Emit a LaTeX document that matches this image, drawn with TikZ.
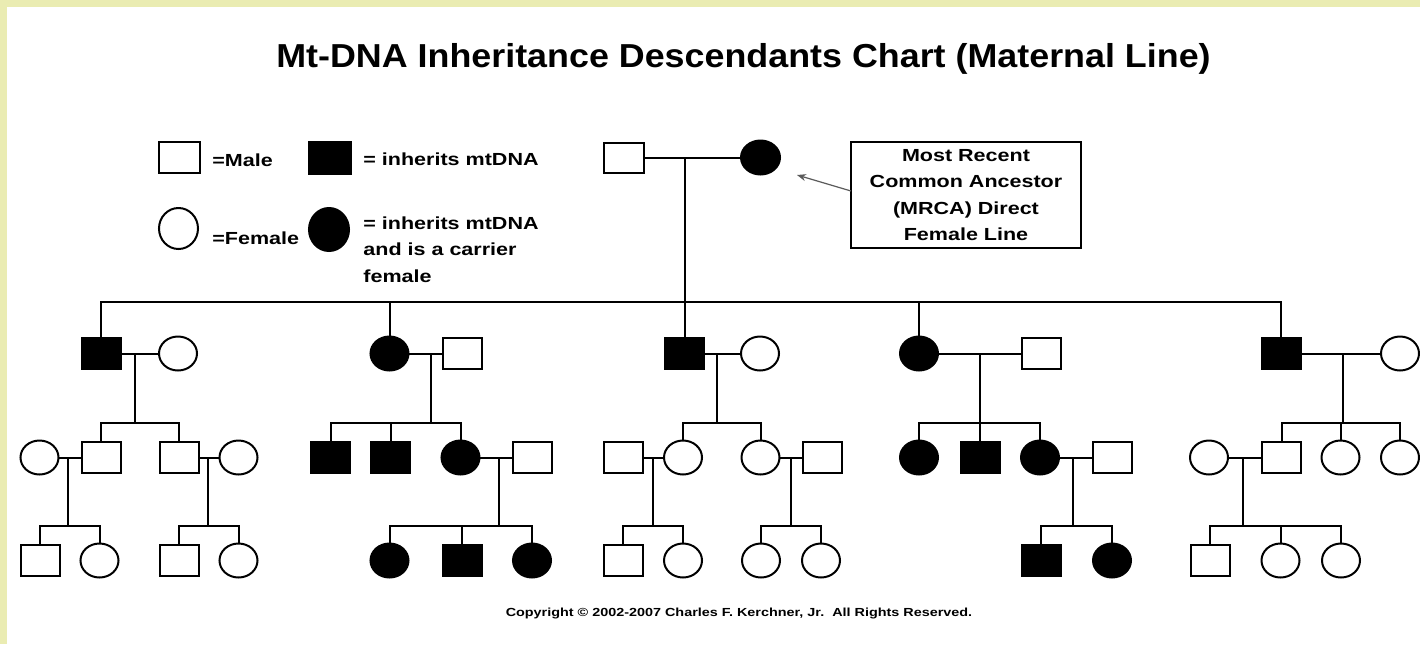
\documentclass[tikz,border=0pt]{standalone}
\usepackage{fontspec}
\newfontfamily\cf{Liberation Sans}[FakeStretch=1.23]
\newfontfamily\tf{Liberation Sans}[FakeStretch=1.08]
\usetikzlibrary{shapes.geometric,arrows.meta}
\definecolor{frameyel}{RGB}{234,236,178}
\definecolor{arrowgray}{RGB}{90,90,90}
\begin{document}
\begin{tikzpicture}[x=0.5pt,y=-0.5pt,
  shp/.style={line width=1pt, draw=black, inner sep=0pt, outer sep=0pt},
  male/.style={shp, rectangle, minimum width=19.5pt, minimum height=15.5pt},
  fem/.style={shp, ellipse, minimum width=19pt, minimum height=17pt},
  carrier/.style={fill=black},
  wire/.style={line width=1pt},
  legtext/.style={inner sep=0pt, font=\cf\bfseries\fontsize{8.75}{13.2}\selectfont},
  pointer/.style={draw=arrowgray, line width=0.6pt, -{Stealth[length=4.5pt,width=3.5pt]}}
]
\useasboundingbox (0,0) rectangle (1420,644);
\fill[white] (0,0) rectangle (1420,644);
\fill[frameyel] (0,0) rectangle (1420,7);
\fill[frameyel] (0,0) rectangle (7,644);

% title
\node[anchor=base, inner sep=0pt, font=\tf\bfseries\fontsize{16.6}{19}\selectfont] (title) at (743.5,67) {Mt-DNA Inheritance Descendants Chart (Maternal Line)};

% legend
\node[male, minimum width=20.5pt, minimum height=15.5pt] (lgm) at (179.5,157.5) {};
\node[legtext, anchor=base west] (lgmt) at (212,166) {=Male};
\node[male, carrier, minimum width=21pt, minimum height=16pt] (lgc) at (330,158) {};
\node[legtext, anchor=base west] (lgct) at (363,165) {= inherits mtDNA};
\node[fem, minimum width=19.5pt, minimum height=20.5pt] (lgf) at (178.5,228.5) {};
\node[legtext, anchor=base west] (lgft) at (212,244) {=Female};
\node[fem, carrier, minimum width=20pt, minimum height=21.5pt] (lgcf) at (329,229.5) {};
\node[legtext, anchor=north west, align=left] (lgcft) at (363,216.5) {= inherits mtDNA\\and is a carrier\\female};

% MRCA box
\node[shp, rectangle, minimum width=115pt, minimum height=53pt, align=center,
      font=\cf\bfseries\fontsize{8.75}{13.15}\selectfont] (mrca) at (966,195)
      {Most Recent\\Common Ancestor\\(MRCA) Direct\\Female Line};

% top couple
\node[male, minimum width=20pt, minimum height=15pt] (m0) at (624,157.5) {};
\node[fem, carrier, minimum width=19.5pt, minimum height=17pt] (f0) at (760.5,157.5) {};
\draw[wire] (m0) -- (f0);
\coordinate (j0) at (684.5,157.5);
\coordinate (b0) at (684.5,302);
\coordinate (tip) at (797,175);
\draw[pointer] ([yshift=2pt]mrca.west) -- (tip);

% generation 1
\node[male, carrier] (s1) at (101,353.5) {};
\node[fem] (w1) at (178,353.5) {};
\node[fem, carrier] (d2) at (389.5,353.5) {};
\node[male] (h2) at (462,353.5) {};
\node[male, carrier] (s3) at (684.5,353.5) {};
\node[fem] (w3) at (760,353.5) {};
\node[fem, carrier] (d4) at (919,353.5) {};
\node[male] (h4) at (1041,353.5) {};
\node[male, carrier] (s5) at (1281,353.5) {};
\node[fem] (w5) at (1400,353.5) {};

\draw[wire] (j0) -- (s3.north);
\draw[wire] (s1.north) |- (b0) -| (s5.north);
\draw[wire] (d2.north) -- (d2.north |- b0);
\draw[wire] (d4.north) -- (d4.north |- b0);

\draw[wire] (s1) -- (w1);
\draw[wire] (d2) -- (h2);
\draw[wire] (s3) -- (w3);
\draw[wire] (d4) -- (h4);
\draw[wire] (s5) -- (w5);

% generation 2
\node[fem] (p11) at (39.5,457.5) {};
\node[male] (c11) at (101,457.5) {};
\node[male] (c12) at (179,457.5) {};
\node[fem] (p12) at (238.5,457.5) {};
\node[male, carrier] (c21) at (330.5,457.5) {};
\node[male, carrier] (c22) at (390.5,457.5) {};
\node[fem, carrier] (c23) at (460.5,457.5) {};
\node[male] (p23) at (532,457.5) {};
\node[male] (p31) at (623,457.5) {};
\node[fem] (c31) at (683,457.5) {};
\node[fem] (c32) at (760.5,457.5) {};
\node[male] (p32) at (822,457.5) {};
\node[fem, carrier] (c41) at (919,457.5) {};
\node[male, carrier] (c42) at (980,457.5) {};
\node[fem, carrier] (c43) at (1040,457.5) {};
\node[male] (p43) at (1112,457.5) {};
\node[fem] (p51) at (1209,457.5) {};
\node[male] (c51) at (1281.5,457.5) {};
\node[fem] (c52) at (1340.5,457.5) {};
\node[fem] (c53) at (1400,457.5) {};

% family 1 sibship
\coordinate (j1) at (135,353.5);
\coordinate (k1) at (135,422.5);
\draw[wire] (j1) -- (k1);
\draw[wire] (c11.north) |- (k1) -| (c12.north);
% family 2 sibship
\coordinate (j2) at (431,353.5);
\coordinate (k2) at (431,422.5);
\draw[wire] (j2) -- (k2);
\draw[wire] (c21.north) |- (k2) -| (c23.north);
\draw[wire] (c22.north) -- (c22.north |- k2);
% family 3 sibship
\coordinate (j3) at (717,353.5);
\coordinate (k3) at (717,422.5);
\draw[wire] (j3) -- (k3);
\draw[wire] (c31.north) |- (k3) -| (c32.north);
% family 4 sibship
\coordinate (j4) at (980,353.5);
\coordinate (k4) at (980,422.5);
\draw[wire] (j4) -- (c42.north);
\draw[wire] (c41.north) |- (k4) -| (c43.north);
% family 5 sibship
\coordinate (j5) at (1343,353.5);
\coordinate (k5) at (1343,422.5);
\draw[wire] (j5) -- (k5);
\draw[wire] (c51.north) |- (k5) -| (c53.north);
\draw[wire] (c52.north) -- (c52.north |- k5);

% generation 2 marriages
\draw[wire] (p11) -- (c11);
\draw[wire] (c12) -- (p12);
\draw[wire] (c23) -- (p23);
\draw[wire] (p31) -- (c31);
\draw[wire] (c32) -- (p32);
\draw[wire] (c43) -- (p43);
\draw[wire] (p51) -- (c51);

% generation 3
\node[male] (g111) at (40,560.5) {};
\node[fem] (g112) at (99.5,560.5) {};
\node[male] (g121) at (179,560.5) {};
\node[fem] (g122) at (238.5,560.5) {};
\node[fem, carrier] (g231) at (389.5,560.5) {};
\node[male, carrier] (g232) at (462,560.5) {};
\node[fem, carrier] (g233) at (532,560.5) {};
\node[male] (g311) at (623,560.5) {};
\node[fem] (g312) at (683,560.5) {};
\node[fem] (g321) at (761,560.5) {};
\node[fem] (g322) at (821,560.5) {};
\node[male, carrier] (g431) at (1041,560.5) {};
\node[fem, carrier] (g432) at (1112,560.5) {};
\node[male] (g511) at (1210,560.5) {};
\node[fem] (g512) at (1280.5,560.5) {};
\node[fem] (g513) at (1341,560.5) {};

\coordinate (j11) at (68,457.5);  \coordinate (k11) at (68,526);
\draw[wire] (j11) -- (k11);
\draw[wire] (g111.north) |- (k11) -| (g112.north);
\coordinate (j12) at (208,457.5); \coordinate (k12) at (208,526);
\draw[wire] (j12) -- (k12);
\draw[wire] (g121.north) |- (k12) -| (g122.north);
\coordinate (j23) at (499,457.5); \coordinate (k23) at (499,526);
\draw[wire] (j23) -- (k23);
\draw[wire] (g231.north) |- (k23) -| (g233.north);
\draw[wire] (g232.north) -- (g232.north |- k23);
\coordinate (j31) at (653,457.5); \coordinate (k31) at (653,526);
\draw[wire] (j31) -- (k31);
\draw[wire] (g311.north) |- (k31) -| (g312.north);
\coordinate (j32) at (791,457.5); \coordinate (k32) at (791,526);
\draw[wire] (j32) -- (k32);
\draw[wire] (g321.north) |- (k32) -| (g322.north);
\coordinate (j43) at (1073,457.5); \coordinate (k43) at (1073,526);
\draw[wire] (j43) -- (k43);
\draw[wire] (g431.north) |- (k43) -| (g432.north);
\coordinate (j51) at (1243,457.5); \coordinate (k51) at (1243,526);
\draw[wire] (j51) -- (k51);
\draw[wire] (g511.north) |- (k51) -| (g513.north);
\draw[wire] (g512.north) -- (g512.north |- k51);

% copyright
\node[anchor=base, inner sep=0pt, font=\cf\bfseries\fontsize{5.85}{7}\selectfont] (copy) at (739,616) {Copyright \textcopyright{} 2002-2007 Charles F. Kerchner, Jr.\ \ All Rights Reserved.};
\end{tikzpicture}
\end{document}
